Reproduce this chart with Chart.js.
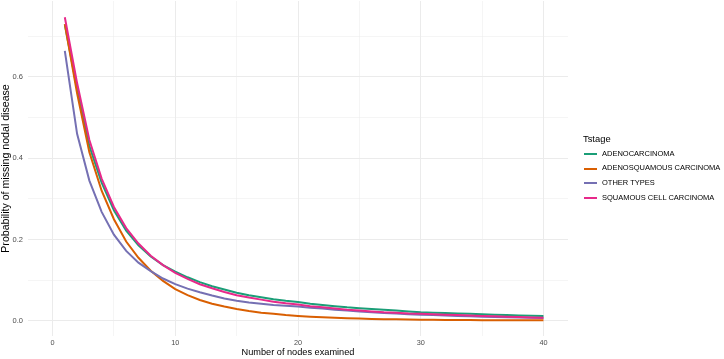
<!DOCTYPE html>
<html>
<head>
<meta charset="utf-8">
<script src="https://cdn.jsdelivr.net/npm/chart.js@4/dist/chart.umd.min.js"></script>
<style>
  html, body { margin: 0; padding: 0; background: #ffffff; }
  #wrap { position: relative; width: 724px; height: 359px; }
  #legend { position: absolute; left: 583px; top: 131px; font-family: "Liberation Sans", Arial, sans-serif; color: #000; }
  #legend .title { font-size: 9.4px; height: 15px; line-height: 15px; }
  #legend .item { position: relative; height: 14.7px; line-height: 14.7px; font-size: 7.5px; padding-left: 19px; white-space: nowrap; }
  #legend .key { position: absolute; left: 1px; top: 6.5px; width: 13px; height: 2px; }
  #legend .items { margin-top: 0.5px; }
</style>
</head>
<body>
<div id="wrap">
  <canvas id="c" width="724" height="359"></canvas>
  <div id="legend"></div>
</div>
<script>
const nodes = [1,2,3,4,5,6,7,8,9,10,11,12,13,14,15,16,17,18,19,20,21,22,23,24,25,26,27,28,29,30,31,32,33,34,35,36,37,38,39,40];
const seriesNames = ["ADENOCARCINOMA", "ADENOSQUAMOUS CARCINOMA", "OTHER TYPES", "SQUAMOUS CELL CARCINOMA"];
const adenocarcinoma = [0.729,0.57,0.43,0.34,0.272,0.222,0.186,0.158,0.137,0.121,0.107,0.095,0.085,0.077,0.069,0.063,0.058,0.053,0.049,0.046,0.042,0.039,0.036,0.033,0.031,0.029,0.027,0.025,0.023,0.021,0.020,0.019,0.018,0.017,0.016,0.015,0.014,0.013,0.0125,0.012];
const adenosquamous = [0.73,0.56,0.415,0.32,0.25,0.195,0.155,0.123,0.098,0.078,0.063,0.051,0.042,0.035,0.029,0.024,0.020,0.017,0.014,0.012,0.010,0.0085,0.0072,0.0062,0.0053,0.0046,0.004,0.0035,0.003,0.0027,0.0024,0.0021,0.0019,0.0017,0.0015,0.0014,0.0013,0.0012,0.0011,0.001];
const otherTypes = [0.664,0.46,0.345,0.268,0.212,0.172,0.143,0.122,0.104,0.09,0.079,0.07,0.062,0.055,0.049,0.045,0.042,0.039,0.037,0.035,0.032,0.030,0.027,0.025,0.023,0.021,0.019,0.018,0.016,0.015,0.014,0.013,0.012,0.011,0.010,0.0095,0.0088,0.008,0.0072,0.0065];
const squamous = [0.747,0.585,0.445,0.35,0.28,0.228,0.19,0.16,0.137,0.118,0.103,0.09,0.08,0.071,0.063,0.057,0.052,0.047,0.043,0.040,0.036,0.033,0.030,0.027,0.025,0.023,0.021,0.020,0.018,0.017,0.016,0.015,0.014,0.013,0.012,0.011,0.010,0.009,0.008,0.0075];
const xTicks = [0,10,20,30,40];
const xMinor = [5,15,25,35];
const yTicks = [0,0.2,0.4,0.6];
const yMinor = [0.1,0.3,0.5,0.7];
const colors = ["#1B9E77", "#D95F02", "#7570B3", "#E7298A"];

const allValues = [adenocarcinoma, adenosquamous, otherTypes, squamous];
const datasets = allValues.map((vals, i) => ({
  label: seriesNames[i],
  data: nodes.map((n, j) => ({x: n, y: vals[j]})),
  borderColor: colors[i],
  backgroundColor: colors[i],
  borderWidth: 2,
  pointRadius: 0,
  tension: 0,
  fill: false,
  order: allValues.length - 1 - i
}));

const FONT = "'Liberation Sans', Arial, sans-serif";
const gridColor = ctx => "#EBEBEB";
function gridWidth(majors) {
  return ctx => (ctx.tick && majors.some(v => Math.abs(v - ctx.tick.value) < 1e-9)) ? 1 : 0.5;
}

new Chart(document.getElementById('c'), {
  type: 'line',
  data: { datasets },
  options: {
    responsive: false,
    animation: false,
    layout: { padding: { top: 1, right: 156, bottom: 0, left: 0 } },
    plugins: { legend: { display: false }, tooltip: { enabled: false } },
    scales: {
      x: {
        type: 'linear',
        min: -2, max: 42,
        afterBuildTicks: axis => { axis.ticks = xTicks.concat(xMinor).sort((a,b)=>a-b).map(v => ({value: v})); },
        afterFit: axis => { axis.height = 23; axis.paddingLeft = 0; axis.paddingRight = 0; },
        border: { display: false },
        grid: { color: gridColor, lineWidth: gridWidth(xTicks), drawTicks: false },
        ticks: {
          padding: 3,
          color: '#4D4D4D',
          font: { family: FONT, size: 7.3 },
          maxRotation: 0,
          autoSkip: false,
          callback: v => xTicks.includes(v) ? String(v) : ''
        },
        title: { display: true, text: 'Number of nodes examined', color: '#000', font: { family: FONT, size: 9.2 }, padding: { top: 0, bottom: 1 } }
      },
      y: {
        type: 'linear',
        min: -0.0375, max: 0.787,
        afterBuildTicks: axis => { axis.ticks = yTicks.concat(yMinor).sort((a,b)=>a-b).map(v => ({value: v})); },
        afterFit: axis => { axis.width = 28; axis.paddingTop = 0; axis.paddingBottom = 0; },
        border: { display: false },
        grid: { color: gridColor, lineWidth: gridWidth(yTicks), drawTicks: false },
        ticks: {
          padding: 5,
          color: '#4D4D4D',
          font: { family: FONT, size: 7.5 },
          autoSkip: false,
          callback: v => yTicks.some(t => Math.abs(t - v) < 1e-9) ? v.toFixed(1) : ''
        },
        title: { display: true, text: 'Probability of missing nodal disease', color: '#000', font: { family: FONT, size: 10.6 }, padding: { top: 0, bottom: 0 } }
      }
    }
  }
});

const legend = document.getElementById('legend');
let html = '<div class="title">Tstage</div><div class="items">';
seriesNames.forEach((name, i) => {
  html += '<div class="item"><span class="key" style="background:' + colors[i] + '"></span>' + name + '</div>';
});
html += '</div>';
legend.innerHTML = html;
</script>
</body>
</html>
